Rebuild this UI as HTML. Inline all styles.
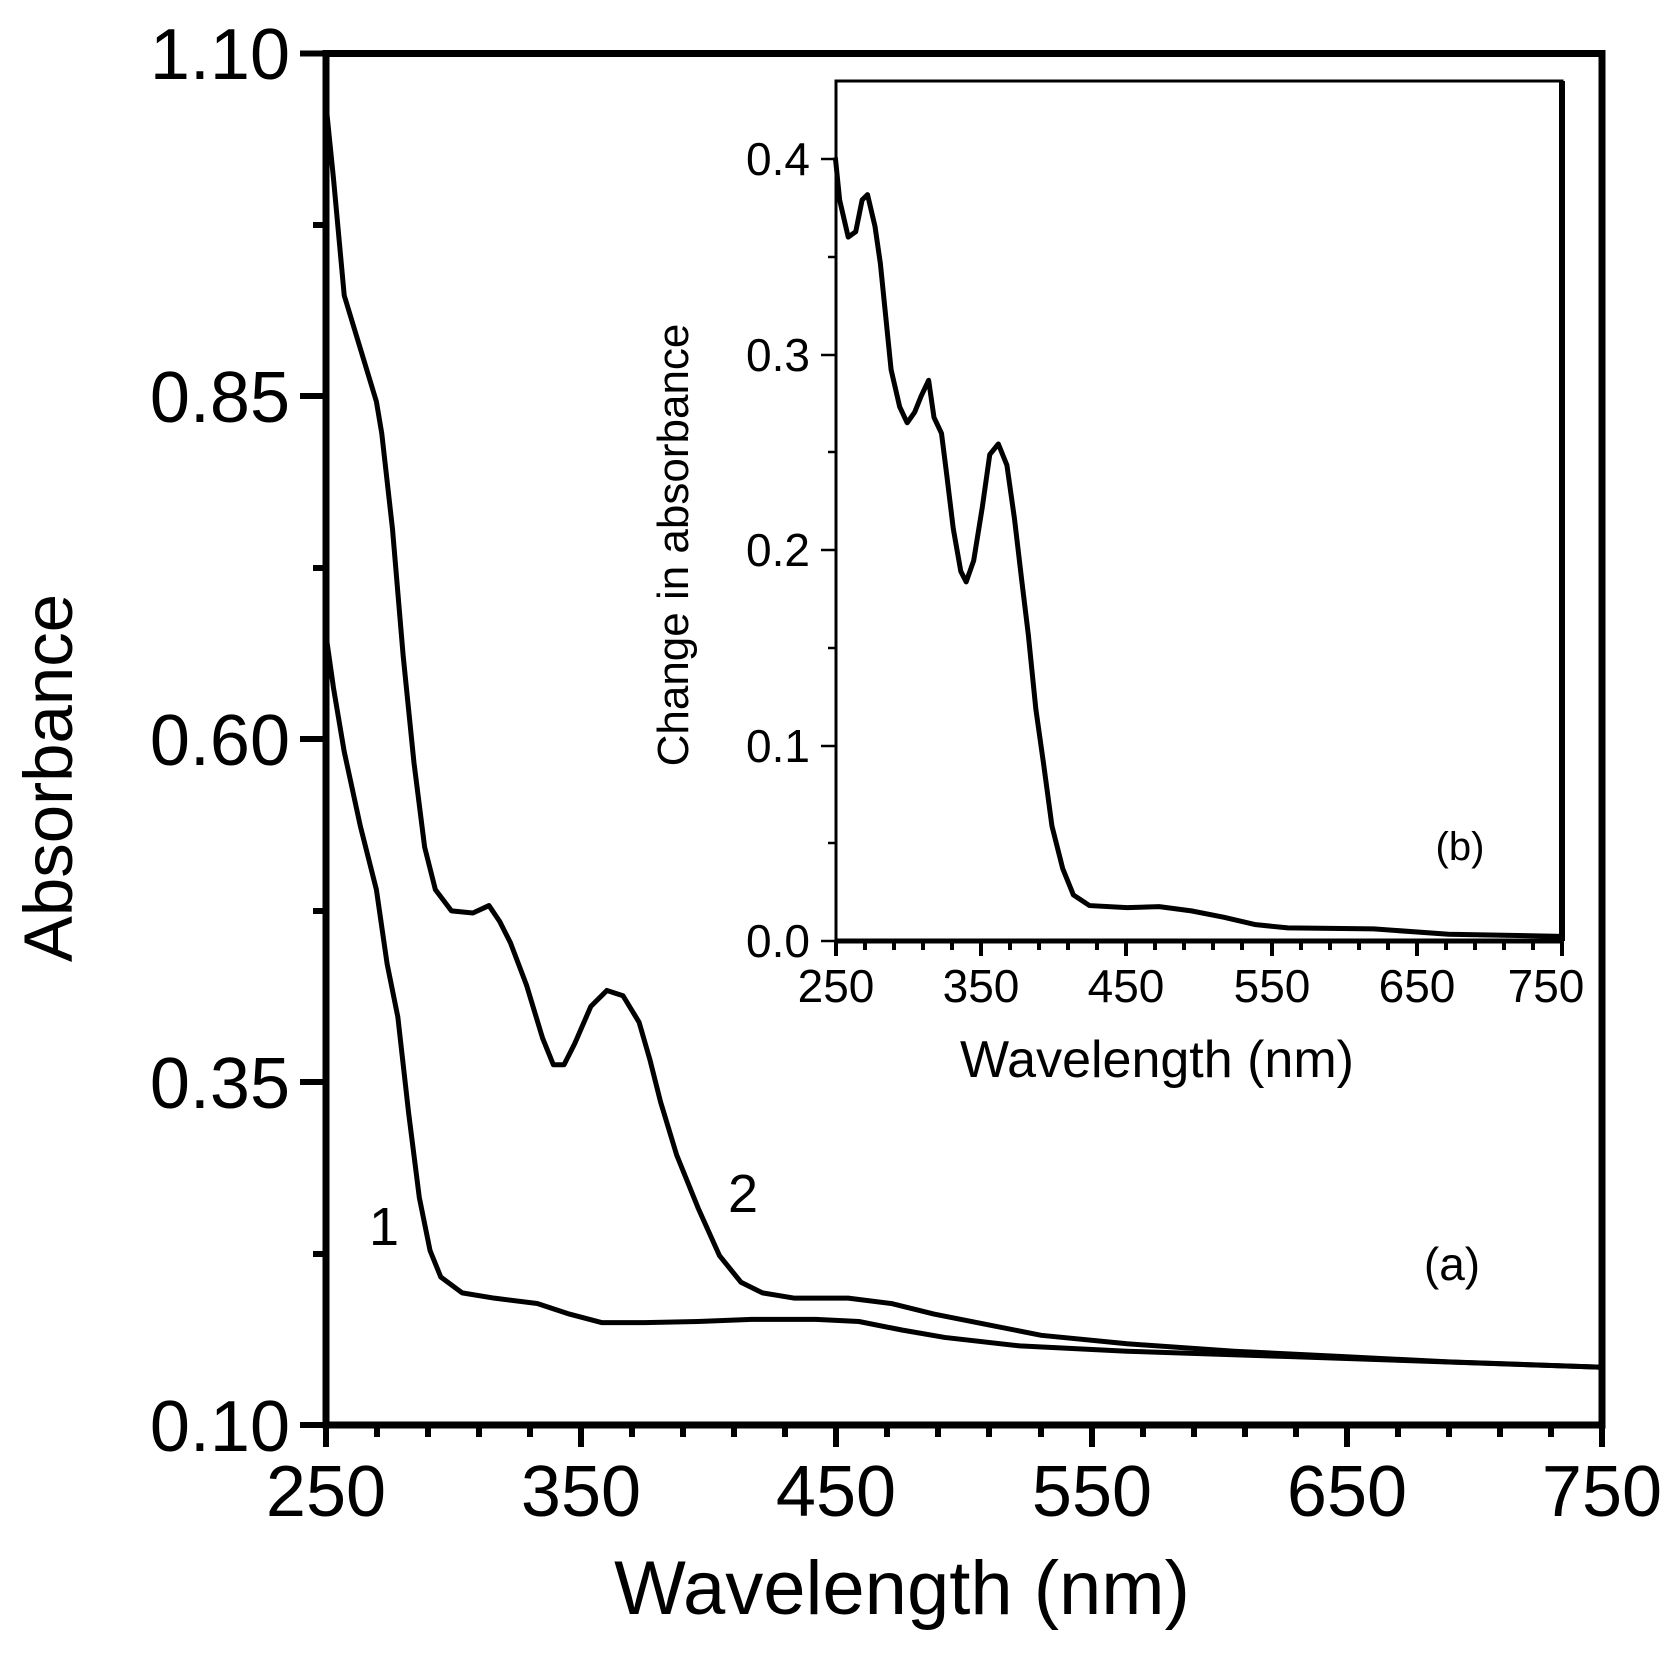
<!DOCTYPE html>
<html><head><meta charset="utf-8"><style>body{margin:0;background:#fff}svg{display:block}</style></head>
<body>
<svg width="1680" height="1660" viewBox="0 0 1680 1660" xmlns="http://www.w3.org/2000/svg" font-family="Liberation Sans, Arial, sans-serif" fill="#000">
<g stroke="#000" stroke-width="7" fill="none" stroke-linecap="square">
<rect x="326" y="53.5" width="1276" height="1371.5"/>
</g>
<g stroke="#000" stroke-width="6">
<line x1="326" y1="1425" x2="326" y2="1447"/><line x1="581" y1="1425" x2="581" y2="1447"/><line x1="836" y1="1425" x2="836" y2="1447"/><line x1="1092" y1="1425" x2="1092" y2="1447"/><line x1="1347" y1="1425" x2="1347" y2="1447"/><line x1="1602" y1="1425" x2="1602" y2="1447"/>
<line x1="377" y1="1425" x2="377" y2="1437"/><line x1="428" y1="1425" x2="428" y2="1437"/><line x1="479" y1="1425" x2="479" y2="1437"/><line x1="530" y1="1425" x2="530" y2="1437"/>
<line x1="632" y1="1425" x2="632" y2="1437"/><line x1="683" y1="1425" x2="683" y2="1437"/><line x1="734" y1="1425" x2="734" y2="1437"/><line x1="785" y1="1425" x2="785" y2="1437"/>
<line x1="887" y1="1425" x2="887" y2="1437"/><line x1="938" y1="1425" x2="938" y2="1437"/><line x1="989" y1="1425" x2="989" y2="1437"/><line x1="1041" y1="1425" x2="1041" y2="1437"/>
<line x1="1143" y1="1425" x2="1143" y2="1437"/><line x1="1194" y1="1425" x2="1194" y2="1437"/><line x1="1245" y1="1425" x2="1245" y2="1437"/><line x1="1296" y1="1425" x2="1296" y2="1437"/>
<line x1="1398" y1="1425" x2="1398" y2="1437"/><line x1="1449" y1="1425" x2="1449" y2="1437"/><line x1="1500" y1="1425" x2="1500" y2="1437"/><line x1="1551" y1="1425" x2="1551" y2="1437"/>
<line x1="300" y1="53.5" x2="326" y2="53.5"/><line x1="300" y1="396" x2="326" y2="396"/><line x1="300" y1="739" x2="326" y2="739"/><line x1="300" y1="1082" x2="326" y2="1082"/><line x1="300" y1="1425" x2="326" y2="1425"/>
<line x1="313" y1="225" x2="326" y2="225"/><line x1="313" y1="568" x2="326" y2="568"/><line x1="313" y1="911" x2="326" y2="911"/><line x1="313" y1="1254" x2="326" y2="1254"/>
</g>
<g font-size="72" text-anchor="end">
<text x="290" y="79">1.10</text><text x="290" y="422">0.85</text><text x="290" y="765">0.60</text><text x="290" y="1108">0.35</text><text x="290" y="1451">0.10</text>
</g>
<g font-size="72" text-anchor="middle">
<text x="326" y="1516">250</text><text x="581" y="1516">350</text><text x="836" y="1516">450</text><text x="1092" y="1516">550</text><text x="1347" y="1516">650</text><text x="1602" y="1516">750</text>
</g>
<text x="902" y="1614" font-size="76" text-anchor="middle">Wavelength (nm)</text>
<text transform="translate(72,778) rotate(-90)" font-size="69" text-anchor="middle">Absorbance</text>
<text x="384" y="1245" font-size="54" text-anchor="middle">1</text>
<text x="743" y="1212" font-size="54" text-anchor="middle">2</text>
<text x="1452" y="1280" font-size="46" text-anchor="middle">(a)</text>

<g stroke="#000" fill="none">
<rect x="836" y="81" width="726" height="860" stroke-width="3"/>
<line x1="1562" y1="81" x2="1562" y2="941" stroke-width="6"/>
<line x1="836" y1="941" x2="1562" y2="941" stroke-width="5"/>
</g>
<g stroke="#000" stroke-width="4">
<line x1="836" y1="941" x2="836" y2="956"/><line x1="981" y1="941" x2="981" y2="956"/><line x1="1126" y1="941" x2="1126" y2="956"/><line x1="1272" y1="941" x2="1272" y2="956"/><line x1="1417" y1="941" x2="1417" y2="956"/><line x1="1562" y1="941" x2="1562" y2="956"/>
<line x1="865" y1="941" x2="865" y2="950"/><line x1="894" y1="941" x2="894" y2="950"/><line x1="923" y1="941" x2="923" y2="950"/><line x1="952" y1="941" x2="952" y2="950"/>
<line x1="1010" y1="941" x2="1010" y2="950"/><line x1="1039" y1="941" x2="1039" y2="950"/><line x1="1068" y1="941" x2="1068" y2="950"/><line x1="1097" y1="941" x2="1097" y2="950"/>
<line x1="1155" y1="941" x2="1155" y2="950"/><line x1="1184" y1="941" x2="1184" y2="950"/><line x1="1213" y1="941" x2="1213" y2="950"/><line x1="1242" y1="941" x2="1242" y2="950"/>
<line x1="1301" y1="941" x2="1301" y2="950"/><line x1="1330" y1="941" x2="1330" y2="950"/><line x1="1359" y1="941" x2="1359" y2="950"/><line x1="1388" y1="941" x2="1388" y2="950"/>
<line x1="1446" y1="941" x2="1446" y2="950"/><line x1="1475" y1="941" x2="1475" y2="950"/><line x1="1504" y1="941" x2="1504" y2="950"/><line x1="1533" y1="941" x2="1533" y2="950"/>
</g>
<g stroke="#000" stroke-width="2.5">
<line x1="821" y1="159" x2="836" y2="159"/><line x1="821" y1="355" x2="836" y2="355"/><line x1="821" y1="550" x2="836" y2="550"/><line x1="821" y1="746" x2="836" y2="746"/><line x1="821" y1="941" x2="836" y2="941"/>
<line x1="828" y1="257" x2="836" y2="257"/><line x1="828" y1="452" x2="836" y2="452"/><line x1="828" y1="648" x2="836" y2="648"/><line x1="828" y1="843" x2="836" y2="843"/>
</g>
<g font-size="46" text-anchor="end">
<text x="810" y="175">0.4</text><text x="810" y="371">0.3</text><text x="810" y="566">0.2</text><text x="810" y="762">0.1</text><text x="810" y="957">0.0</text>
</g>
<g font-size="46" text-anchor="middle">
<text x="836" y="1002">250</text><text x="981" y="1002">350</text><text x="1126" y="1002">450</text><text x="1272" y="1002">550</text><text x="1417" y="1002">650</text><text x="1546" y="1002">750</text>
</g>
<text x="1157" y="1077" font-size="52" text-anchor="middle">Wavelength (nm)</text>
<text transform="translate(688,545) rotate(-90)" font-size="44" text-anchor="middle">Change in absorbance</text>
<text x="1460" y="860" font-size="40" text-anchor="middle">(b)</text>

<g transform="matrix(1.0723 0 0 1.0611 1.09 -1.68)" fill="none" stroke="#000" stroke-width="5" stroke-linejoin="round">
<polyline vector-effect="non-scaling-stroke" points="303,100 310,170 320,280 335,330 350,380 355,410 365,500 375,620 385,720 395,800 405,840 420,860 440,862 455,855 465,870 475,890 490,930 505,980 515,1005 525,1005 535,985 550,950 565,935 580,940 595,965 605,1000 615,1040 630,1090 650,1140 670,1185 690,1210 710,1220 740,1225 790,1225 830,1230 870,1240 920,1250 970,1260 1050,1268 1150,1275 1250,1280 1350,1285 1490,1290"/>
<polyline vector-effect="non-scaling-stroke" points="303,600 310,650 320,710 335,780 350,840 360,910 370,960 380,1050 390,1130 400,1180 410,1205 430,1220 460,1225 500,1230 530,1240 560,1248 600,1248 650,1247 700,1245 760,1245 800,1247 840,1255 880,1262 950,1270 1050,1275 1200,1280 1490,1290"/>
<polyline vector-effect="non-scaling-stroke" points="778,150 782,190 790,225 797,220 803,190 808,185 815,215 820,250 825,300 830,350 838,385 845,400 852,390 858,375 865,360 870,395 877,410 882,450 888,500 895,540 900,550 907,530 915,480 922,430 930,420 938,440 945,490 952,550 958,600 965,670 972,720 980,780 990,820 1000,845 1015,855 1050,857 1080,856 1110,860 1140,866 1170,873 1200,876 1280,877 1350,882 1455,884"/>
</g>
</svg>
</body></html>
